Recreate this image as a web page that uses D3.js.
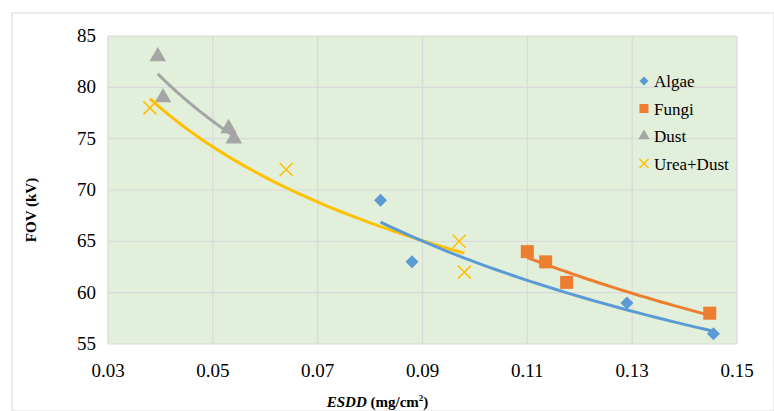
<!DOCTYPE html>
<html><head><meta charset="utf-8">
<script src="https://cdn.jsdelivr.net/npm/d3@7"></script>
<style>body{margin:0;background:#fff;} svg text{font-family:"Liberation Serif","DejaVu Serif",serif;}</style>
</head><body><div id="chart"></div>
<script>
const xTicks = [0.03, 0.05, 0.07, 0.09, 0.11, 0.13, 0.15];
const yTicks = [55, 60, 65, 70, 75, 80, 85];
const seriesNames = ["Algae", "Fungi", "Dust", "Urea+Dust"];
const algaeX = [0.082, 0.088, 0.129, 0.1455];
const algaeY = [69, 63, 59, 56];
const fungiX = [0.110, 0.1135, 0.1175, 0.1448];
const fungiY = [64, 63, 61, 58];
const dustX = [0.0395, 0.0405, 0.053, 0.054];
const dustY = [83, 79, 76, 75];
const ureaX = [0.038, 0.064, 0.097, 0.098];
const ureaY = [78, 72, 65, 62];
const colors = ["#5b9bd5", "#ed7d31", "#a5a5a5", "#ffc000"];

const W = 774, H = 411;
const m = {left: 108, right: 37, top: 36, bottom: 67};
const svg = d3.select("#chart").append("svg").attr("width", W).attr("height", H)
  .attr("font-family", "Liberation Serif, serif");
svg.append("rect").attr("x", 12).attr("y", 13).attr("width", W - 12).attr("height", H - 13)
  .attr("fill", "none").attr("stroke", "#d9d9d9");

const x = d3.scaleLinear().domain([0.03, 0.15]).range([m.left, W - m.right]);
const y = d3.scaleLinear().domain([55, 85]).range([H - m.bottom, m.top]);

svg.append("rect").attr("x", x(0.03)).attr("y", y(85))
  .attr("width", x(0.15) - x(0.03)).attr("height", y(55) - y(85)).attr("fill", "#e2efda");

svg.append("g").selectAll("line").data(xTicks).join("line")
  .attr("x1", d => x(d)).attr("x2", d => x(d)).attr("y1", y(55)).attr("y2", y(85))
  .attr("stroke", "#d9d9d9").attr("stroke-width", 1.2);
svg.append("g").selectAll("line").data(yTicks).join("line")
  .attr("y1", d => y(d)).attr("y2", d => y(d)).attr("x1", x(0.03)).attr("x2", x(0.15))
  .attr("stroke", "#d9d9d9").attr("stroke-width", 1.2);

svg.append("g").selectAll("text").data(xTicks).join("text")
  .attr("x", d => x(d)).attr("y", y(55) + 33).attr("text-anchor", "middle")
  .attr("font-size", 19).attr("fill", "#000").text(d => d.toFixed(2));
svg.append("g").selectAll("text").data(yTicks).join("text")
  .attr("x", x(0.03) - 12).attr("y", d => y(d) + 6).attr("text-anchor", "end")
  .attr("font-size", 19).attr("fill", "#000").text(d => d);

svg.append("text").attr("x", (x(0.03) + x(0.15)) / 2 - 45).attr("y", 407)
  .attr("text-anchor", "middle").attr("font-size", 15).attr("font-weight", "bold")
  .html('<tspan font-style="italic">ESDD</tspan> (mg/cm<tspan font-size="9" dy="-6">2</tspan><tspan dy="6">)</tspan>');
svg.append("text").attr("transform", `translate(36,${(y(55) + y(85)) / 2 + 20}) rotate(-90)`)
  .attr("text-anchor", "middle").attr("font-size", 15).attr("font-weight", "bold").text("FOV (kV)");

const series = [
  {xs: algaeX, ys: algaeY}, {xs: fungiX, ys: fungiY},
  {xs: dustX, ys: dustY}, {xs: ureaX, ys: ureaY}
].map((s, i) => ({name: seriesNames[i], color: colors[i],
  pts: s.xs.map((v, j) => [v, s.ys[j]])}));

// power-law trendline fitted on log-log values
function powerFit(pts) {
  const lx = pts.map(p => Math.log(p[0])), ly = pts.map(p => Math.log(p[1]));
  const mx = d3.mean(lx), my = d3.mean(ly);
  const b = d3.sum(lx, (v, i) => (v - mx) * (ly[i] - my)) / d3.sum(lx, v => (v - mx) ** 2);
  const a = Math.exp(my - b * mx);
  const [x0, x1] = d3.extent(pts, p => p[0]);
  return d3.range(0, 41).map(k => { const xv = x0 + (x1 - x0) * k / 40; return [xv, a * Math.pow(xv, b)]; });
}
const line = d3.line().x(d => x(d[0])).y(d => y(d[1]));
[3, 2, 0, 1].forEach(i => {
  svg.append("path").datum(powerFit(series[i].pts)).attr("d", line)
    .attr("fill", "none").attr("stroke", series[i].color).attr("stroke-width", 3);
});

function marker(g, i, cx, cy, s) {
  const c = colors[i];
  if (i === 0) g.append("path").attr("d", `M${cx},${cy - s / 2}L${cx + s / 2},${cy}L${cx},${cy + s / 2}L${cx - s / 2},${cy}Z`).attr("fill", c);
  else if (i === 1) g.append("rect").attr("x", cx - s / 2).attr("y", cy - s / 2).attr("width", s).attr("height", s).attr("fill", c);
  else if (i === 2) g.append("path").attr("d", d3.symbol(d3.symbolTriangle, s * s * 0.7)()).attr("transform", `translate(${cx},${cy})`).attr("fill", c);
  else g.append("path").attr("d", `M${cx - s / 2},${cy - s / 2}L${cx + s / 2},${cy + s / 2}M${cx - s / 2},${cy + s / 2}L${cx + s / 2},${cy - s / 2}`).attr("stroke", c).attr("stroke-width", 1.5);
}
const mg = svg.append("g");
series.forEach((s, i) => s.pts.forEach(p => marker(mg, i, x(p[0]), y(p[1]), 13)));

const lg = svg.append("g");
seriesNames.forEach((n, i) => {
  const ly = 81 + i * 27.5;
  marker(lg, i, 644, ly, 9);
  lg.append("text").attr("x", 654).attr("y", ly + 6).attr("font-size", 17).attr("fill", "#000").text(n);
});
</script></body></html>
